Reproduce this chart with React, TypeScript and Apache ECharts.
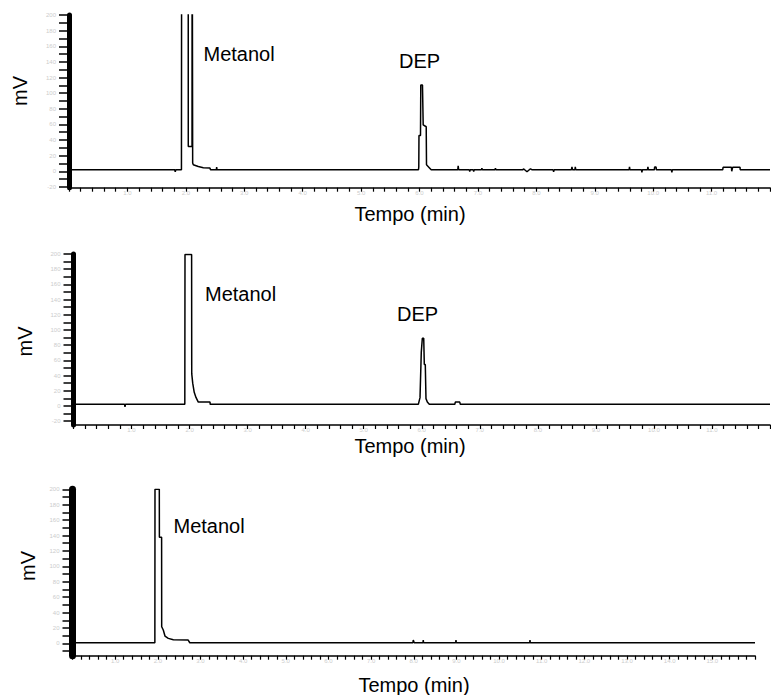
import React, { useEffect, useRef } from "react";
import * as echarts from "echarts";

// Chromatogram 1 (time in min, signal in mV) — 400 = off-scale (clipped)
const panel1Trace: [number, number][] = [
  [0, 1.9], [1.81, 1.9], [1.819, -0.8], [1.828, 1.9],
  [1.925, 1.9], [1.929, 400], [2.04, 400], [2.042, 31.7], [2.106, 31.7], [2.108, 400],
  [2.115, 400], [2.117, 10.5], [2.128, 8.3], [2.213, 6.1], [2.299, 4.6], [2.414, 4.1], [2.422, 1.9],
  [2.522, 1.9], [2.528, 5.4], [2.534, 1.9],
  [5.983, 1.9], [5.988, 6], [5.991, 45.8], [6.017, 45.8], [6.022, 110.5], [6.051, 110.5],
  [6.063, 59.4], [6.115, 57], [6.12, 8.3], [6.159, 5.3], [6.2, 1.9],
  [6.655, 1.9], [6.662, 7], [6.67, 1.9],
  [6.853, 1.9], [6.86, -0.3], [6.867, 1.9], [6.921, 1.9], [6.928, -0.3], [6.935, 1.9],
  [7.06, 1.9], [7.068, 3.8], [7.076, 1.9], [7.292, 1.9], [7.3, 3.8], [7.308, 1.9],
  [7.77, 1.9], [7.78, 3.2], [7.84, -0.6], [7.9, 3.2], [7.93, 1.9],
  [8.288, 1.9], [8.296, -0.6], [8.304, 1.9],
  [8.6, 1.9], [8.61, 5.75], [8.62, 1.9], [8.66, 1.9], [8.667, 5.75], [8.675, 1.9],
  [9.588, 1.9], [9.595, 5.75], [9.602, 1.9], [9.8, 1.9], [9.807, -1.3], [9.815, 1.9],
  [9.903, 1.9], [9.91, 5.75], [9.918, 1.9], [10.02, 1.9], [10.025, 5.5], [10.05, 5.5], [10.055, 1.9],
  [10.312, 1.9], [10.32, -1.5], [10.328, 1.9],
  [11.19, 1.9], [11.197, 5.1], [11.34, 5.1], [11.345, 0], [11.36, 5.1], [11.487, 5.1], [11.49, 1.9],
  [12, 1.9],
];

// Chromatogram 2
const panel2Trace: [number, number][] = [
  [0, 2.2], [0.88, 2.2], [0.887, -1], [0.894, 2.2],
  [1.918, 2.2], [1.921, 199.5], [2.035, 199.5], [2.037, 42.5], [2.054, 30], [2.08, 18],
  [2.11, 11.3], [2.15, 5.2], [2.352, 5.2], [2.355, 2.2],
  [5.941, 2.2], [5.97, 11], [5.982, 11], [5.992, 70.9], [6.01, 89.2], [6.034, 89.2],
  [6.044, 54.7], [6.061, 54.7], [6.073, 9.7], [6.096, 5.2], [6.13, 2.2],
  [6.57, 2.2], [6.578, 5.2], [6.655, 5.2], [6.664, 2.2],
  [12, 2.2],
];

// Chromatogram 3
const panel3Trace: [number, number][] = [
  [0, 0.8], [1.931, 0.8], [1.934, 200], [2.035, 200], [2.037, 137.7], [2.089, 137.7],
  [2.091, 21.6], [2.128, 17.3], [2.168, 9.5], [2.246, 6.5], [2.364, 4.7], [2.712, 4.3], [2.75, 0.8],
  [7.98, 0.8], [7.989, 4.3], [8.0, 4.3], [8.01, 0.8],
  [8.216, 0.8], [8.223, 4.3], [8.23, 0.8],
  [8.983, 0.8], [8.99, 4.3], [8.997, 0.8],
  [10.718, 0.8], [10.725, 4.3], [10.732, 0.8],
  [16, 0.8],
];

const yLabels12 = [-20, 0, 20, 40, 60, 80, 100, 120, 140, 160, 180, 200];
const yLabels3 = [0, 20, 40, 60, 80, 100, 120, 140, 160, 180, 200];
const xLabels12 = [1, 2, 3, 4, 5, 6, 7, 8, 9, 10, 11];
const xLabels3 = [1, 2, 3, 4, 5, 6, 7, 8, 9, 10, 11, 12, 13, 14, 15];

const xTitle = "Tempo (min)";
const yTitle = "mV";

function steps(from: number, to: number, step: number): number[] {
  const out: number[] = [];
  const n = Math.round((to - from) / step);
  for (let i = 0; i <= n; i++) out.push(Math.round((from + i * step) * 1000) / 1000);
  return out;
}

const panels = [
  {
    grid: { left: 69, top: 15, width: 701, height: 172.7 },
    xMax: 12, yMin: -21, yMax: 200, barW: 5,
    trace: panel1Trace, yLabels: yLabels12, xLabels: xLabels12,
    yTicks: steps(-20, 200, 10), xTicks: steps(0, 12, 0.2),
  },
  {
    grid: { left: 73.5, top: 254, width: 696.5, height: 171 },
    xMax: 12, yMin: -25, yMax: 200, barW: 5,
    trace: panel2Trace, yLabels: yLabels12, xLabels: xLabels12,
    yTicks: steps(-20, 200, 10), xTicks: steps(0, 12, 0.2),
  },
  {
    grid: { left: 72.5, top: 489.3, width: 682.5, height: 166.4 },
    xMax: 16, yMin: -16, yMax: 200, barW: 7,
    trace: panel3Trace, yLabels: yLabels3, xLabels: xLabels3,
    yTicks: steps(-10, 200, 10), xTicks: steps(0, 16, 0.2),
  },
];

const FONT = "'Liberation Sans', Arial, sans-serif";

const textItems = [
  { text: yTitle, x: 20, y: 91, rot: true, align: "center" },
  { text: "Metanol", x: 203.5, y: 54, rot: false, align: "left" },
  { text: "DEP", x: 399, y: 61, rot: false, align: "left" },
  { text: xTitle, x: 410, y: 213.5, rot: false, align: "center" },
  { text: yTitle, x: 24.5, y: 341.5, rot: true, align: "center" },
  { text: "Metanol", x: 205, y: 294, rot: false, align: "left" },
  { text: "DEP", x: 397, y: 313.5, rot: false, align: "left" },
  { text: xTitle, x: 410, y: 446, rot: false, align: "center" },
  { text: yTitle, x: 28, y: 566, rot: true, align: "center" },
  { text: "Metanol", x: 173.5, y: 526, rot: false, align: "left" },
  { text: xTitle, x: 414, y: 684.5, rot: false, align: "center" },
];

export default function App() {
  const ref = useRef<HTMLDivElement>(null);
  useEffect(() => {
    if (!ref.current) return;
    const chart = echarts.init(ref.current, undefined, { renderer: "svg" });
    const faint = "#cccccc";
    chart.setOption({
      animation: false,
      backgroundColor: "#ffffff",
      grid: panels.map((p) => ({ ...p.grid, containLabel: false })),
      xAxis: panels.map((p, i) => ({
        type: "value",
        gridIndex: i,
        min: 0,
        max: p.xMax,
        splitLine: { show: false },
        axisLine: { show: true, onZero: false, lineStyle: { color: "#000", width: 1.5 } },
        axisTick: { show: true, customValues: p.xTicks, length: 4, lineStyle: { color: "#000", width: 1.2 } },
        axisLabel: {
          show: true, customValues: p.xLabels, fontSize: 6, color: faint, margin: 2,
          fontFamily: FONT, formatter: (v: number) => v.toFixed(1),
        },
      })),
      yAxis: panels.map((p, i) => ({
        type: "value",
        gridIndex: i,
        min: p.yMin,
        max: p.yMax,
        splitLine: { show: false },
        axisLine: { show: true, onZero: false, lineStyle: { color: "#000", width: p.barW } },
        axisTick: { show: true, customValues: p.yTicks, length: 10, lineStyle: { color: "#000", width: 1.5 } },
        axisLabel: {
          show: true, customValues: p.yLabels, fontSize: 6, color: faint, margin: 13,
          fontFamily: FONT,
        },
      })),
      series: panels.map((p, i) => ({
        type: "line",
        xAxisIndex: i,
        yAxisIndex: i,
        data: p.trace,
        showSymbol: false,
        symbol: "none",
        clip: true,
        silent: true,
        lineStyle: { color: "#000", width: 1.5 },
      })),
      graphic: textItems.map((t) => ({
        type: "text",
        x: t.x,
        y: t.y,
        rotation: t.rot ? Math.PI / 2 : 0,
        silent: true,
        style: {
          text: t.text,
          fill: "#000",
          fontSize: 20,
          fontFamily: FONT,
          align: t.align,
          verticalAlign: "middle",
        },
      })),
    });
    return () => chart.dispose();
  }, []);
  return (
    <div
      ref={ref}
      style={{ position: "fixed", left: 0, top: 0, width: 771, height: 695 }}
    />
  );
}
